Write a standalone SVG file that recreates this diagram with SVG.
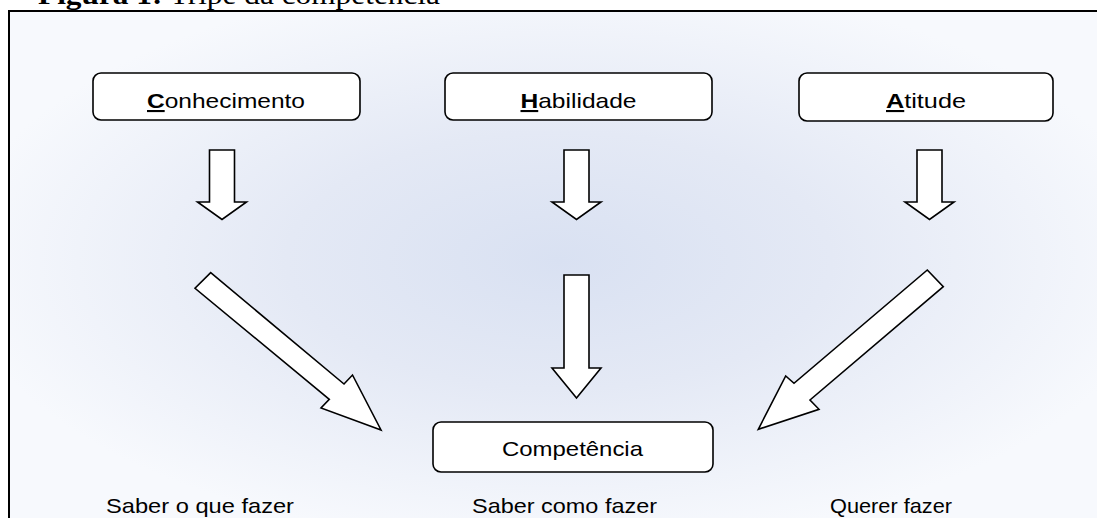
<svg xmlns="http://www.w3.org/2000/svg" width="1097" height="518" viewBox="0 0 1097 518">
<defs>
<radialGradient id="bg" cx="0.5" cy="0.48" r="0.55">
<stop offset="0" stop-color="#d9e1f2"/>
<stop offset="0.45" stop-color="#e4e9f5"/>
<stop offset="1" stop-color="#f7f9fd"/>
</radialGradient>
<style>
.box{fill:#fff;stroke:#000;stroke-width:1.6}
.arr{fill:#fff;stroke:#000;stroke-width:1.6;stroke-linejoin:miter}
.lbl{font-family:"Liberation Sans",Arial,sans-serif;font-size:21px;fill:#000;text-anchor:middle}
.ini{font-weight:bold;text-decoration:underline}
.ttl{font-family:"Liberation Serif","Times New Roman",serif;font-size:27px;fill:#000}
</style>
</defs>
<rect x="0" y="0" width="1097" height="518" fill="#fff"/>
<text class="ttl" x="38" y="3.5" textLength="402" lengthAdjust="spacingAndGlyphs"><tspan font-weight="bold">Figura 1:</tspan> Tripé da competência</text>
<rect x="9" y="11" width="1100" height="520" fill="url(#bg)" stroke="#000" stroke-width="2"/>

<g id="connectors">
<polygon class="arr" points="209.5,150 234.5,150 234.5,202 246.5,202 222,219.5 197.5,202 209.5,202"/>
<polygon class="arr" points="564,150 589,150 589,202 601,202 576.5,219.5 552,202 564,202"/>
<polygon class="arr" points="917,150 942,150 942,202 954,202 929.5,219.5 905,202 917,202"/>
<polygon class="arr" points="564,275 589,275 589,368 601,368 576.5,398 552,368 564,368"/>
<polygon class="arr" points="210.7,272.7 344,384 352.5,375 381,430 321,408 329.3,399.3 195,288.3"/>
<polygon class="arr" points="927.3,270 943.3,286.7 810,400 819,409.3 758.3,429.3 785.7,376 794,383.3"/>
</g>

<g id="conhecimento">
<rect class="box" x="93" y="73" width="267" height="47" rx="8"/>
<text class="lbl" x="226" y="108" textLength="158" lengthAdjust="spacingAndGlyphs"><tspan class="ini">C</tspan>onhecimento</text>
</g>
<g id="habilidade">
<rect class="box" x="445" y="73" width="267" height="47" rx="8"/>
<text class="lbl" x="578.5" y="108" textLength="116" lengthAdjust="spacingAndGlyphs"><tspan class="ini">H</tspan>abilidade</text>
</g>
<g id="atitude">
<rect class="box" x="799" y="73" width="254" height="48" rx="8"/>
<text class="lbl" x="926" y="108" textLength="80" lengthAdjust="spacingAndGlyphs"><tspan class="ini">A</tspan>titude</text>
</g>
<g id="competencia">
<rect class="box" x="433" y="422" width="280" height="50" rx="8"/>
<text class="lbl" x="572.5" y="456" textLength="141" lengthAdjust="spacingAndGlyphs">Competência</text>
</g>
<g id="labels">
<text class="lbl" x="200" y="513" textLength="188" lengthAdjust="spacingAndGlyphs">Saber o que fazer</text>
<text class="lbl" x="564.5" y="513" textLength="185" lengthAdjust="spacingAndGlyphs">Saber como fazer</text>
<text class="lbl" x="891" y="513" textLength="122" lengthAdjust="spacingAndGlyphs">Querer fazer</text>
</g>
</svg>
